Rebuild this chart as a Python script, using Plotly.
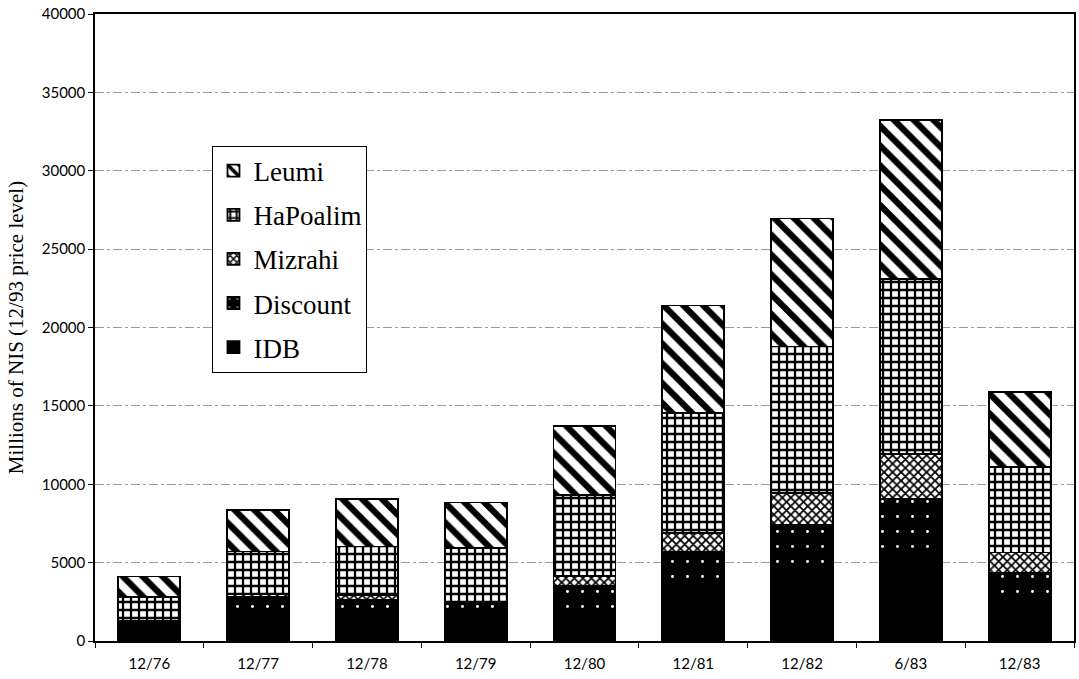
import plotly.graph_objects as go

categories = ["12/76", "12/77", "12/78", "12/79", "12/80", "12/81", "12/82", "6/83", "12/83"]
idb      = [850, 1500, 1500, 1300, 1900, 3200, 4400, 5300, 2300]
discount = [380, 1330, 1120, 1110, 1610, 2510, 3010, 3770, 2060]
mizrahi  = [50, 170, 320, 100, 660, 1170, 2030, 2880, 1280]
hapoalim = [1550, 2710, 3090, 3410, 5160, 7690, 9350, 11120, 5460]
leumi    = [1280, 2660, 3020, 2920, 4410, 6830, 8170, 10160, 4770]
yticks = [0, 5000, 10000, 15000, 20000, 25000, 30000, 35000, 40000]

fig = go.Figure()
line = dict(color="black", width=1.8)

fig.add_trace(go.Bar(name="IDB", x=categories, y=idb, legendgroup="a", legendrank=5,
                     marker=dict(color="black", line=line)))
fig.add_trace(go.Bar(name="Discount", x=categories, y=discount, legendgroup="b", legendrank=4,
                     marker=dict(color="black", line=line,
                                 pattern=dict(shape=".", fgcolor="white", bgcolor="black",
                                              fgopacity=1, size=15, solidity=0.03))))
fig.add_trace(go.Bar(name="Mizrahi", x=categories, y=mizrahi, legendgroup="c", legendrank=3,
                     marker=dict(color="white", line=line,
                                 pattern=dict(shape="x", fgcolor="black", bgcolor="white",
                                              fgopacity=1, size=6, solidity=0.5))))
fig.add_trace(go.Bar(name="HaPoalim", x=categories, y=hapoalim, legendgroup="d", legendrank=2,
                     marker=dict(color="white", line=line,
                                 pattern=dict(shape="+", fgcolor="black", bgcolor="white",
                                              fgopacity=1, size=8, solidity=0.5))))
fig.add_trace(go.Bar(name="Leumi", x=categories, y=leumi, legendgroup="e", legendrank=1,
                     marker=dict(color="white", line=line,
                                 pattern=dict(shape="\\", fgcolor="black", bgcolor="white",
                                              fgopacity=1, size=14, solidity=0.45))))

fig.update_layout(
    barmode="stack",
    bargap=0.43,
    width=1079, height=679,
    margin=dict(l=95, r=3, t=14, b=38),
    paper_bgcolor="white", plot_bgcolor="white",
    font=dict(family="Liberation Serif", color="black"),
    showlegend=True,
    legend=dict(
        traceorder="grouped",
        x=0.12, y=0.79, xanchor="left", yanchor="top",
        bgcolor="white", bordercolor="black", borderwidth=1,
        font=dict(family="Liberation Serif", size=27),
        tracegroupgap=6,
        itemwidth=30,
    ),
)
fig.update_xaxes(
    showline=True, linecolor="black", linewidth=1.5, mirror=True,
    ticks="outside", tickson="boundaries", ticklen=5, tickcolor="black",
    tickfont=dict(family="Lato", size=15), ticklabelstandoff=8,
    showgrid=False,
)
fig.update_yaxes(
    range=[0, 40000], tickvals=yticks, tickformat="d",
    showline=True, linecolor="black", linewidth=1.5, mirror=True,
    ticks="outside", ticklen=5, tickcolor="black",
    tickfont=dict(family="Lato", size=15),
    showgrid=True, gridcolor="#999999", gridwidth=1, griddash="dashdot",
    title=dict(text="Millions of NIS (12/93 price level)",
               font=dict(family="Liberation Serif", size=21), standoff=12),
)

fig.write_html("out.html")
